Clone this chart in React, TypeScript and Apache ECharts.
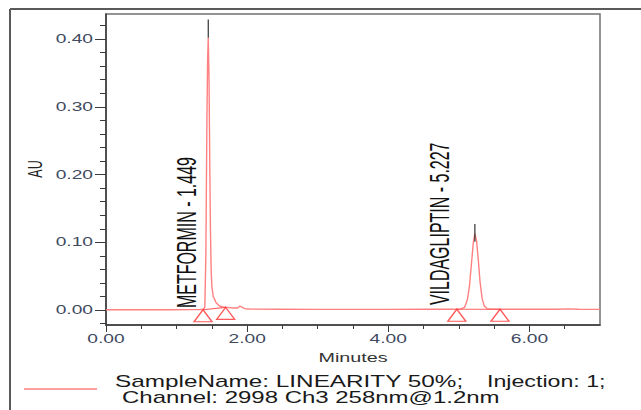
import React, { useEffect, useRef } from 'react';
import * as echarts from 'echarts';

// Chromatogram trace (minutes, AU)
const timeMin = [0, 0.3, 0.6, 0.9, 1.2, 1.33, 1.38, 1.40, 1.415, 1.43, 1.44, 1.449, 1.46, 1.47, 1.48, 1.49, 1.50, 1.52, 1.56, 1.61, 1.66, 1.72, 1.80, 1.86, 1.90, 1.93, 1.97, 2.05, 2.5, 3.0, 3.5, 4.0, 4.5, 4.9, 5.02, 5.08, 5.12, 5.15, 5.18, 5.205, 5.227, 5.25, 5.275, 5.30, 5.33, 5.36, 5.40, 5.46, 5.6, 6.0, 6.4, 6.55, 6.7, 7.0];
const auValues = [0.0005, 0.0006, 0.0005, 0.0006, 0.0007, 0.0008, 0.0012, 0.004, 0.08, 0.28, 0.37, 0.402, 0.34, 0.22, 0.12, 0.06, 0.035, 0.02, 0.011, 0.006, 0.0045, 0.004, 0.003, 0.003, 0.006, 0.004, 0.002, 0.0015, 0.0012, 0.001, 0.001, 0.001, 0.0012, 0.0012, 0.0015, 0.004, 0.015, 0.035, 0.07, 0.1, 0.113, 0.103, 0.075, 0.042, 0.017, 0.006, 0.0022, 0.0013, 0.0012, 0.0012, 0.0012, 0.0018, 0.0012, 0.001];

// Peaks
const peakNames = ['METFORMIN', 'VILDAGLIPTIN'];
const peakTimes = [1.449, 5.227];
const apexMarkTopAU = [0.429, 0.127];
const apexMarkBottomAU = [0.402, 0.101];
const baselineStartMin = [1.375, 4.971];
const baselineStartAU = [0.0005, 0.0012];
const baselineEndMin = [1.696, 5.583];
const baselineEndAU = [0.004, 0.0012];

// Axes
const X_MIN = 0;
const X_MAX = 7;
const Y_MIN = -0.022;
const Y_MAX = 0.437;
const xMajorTicks = [0, 2, 4, 6];
const xTickLabels = ['0.00', '2.00', '4.00', '6.00'];
const xMinorTicks = [0.5, 1, 1.5, 2.5, 3, 3.5, 4.5, 5, 5.5, 6.5];
const yMajorTicks = [0, 0.1, 0.2, 0.3, 0.4];
const yTickLabels = ['0.00', '0.10', '0.20', '0.30', '0.40'];
const yMinorTicks = [-0.02, 0.02, 0.04, 0.06, 0.08, 0.12, 0.14, 0.16, 0.18, 0.22, 0.24, 0.26, 0.28, 0.32, 0.34, 0.36, 0.38, 0.42];
const xAxisName = 'Minutes';
const yAxisName = 'AU';

// Legend
const legendText1 = 'SampleName: LINEARITY 50%;';
const legendText1b = 'Injection: 1;';
const legendText2 = 'Channel: 2998 Ch3 258nm@1.2nm';

const FONT = '"Liberation Sans", Arial, Helvetica, sans-serif';
const AXIS_COLOR = '#3a3a3a';
const TICK_TEXT = '#404a60';

function txt(x: number, y: number, s: string, o: any) {
  const align = o.align || 'left';
  const va = o.va || 'middle';
  return {
    type: 'text',
    x,
    y,
    scaleX: o.sx ?? 1,
    scaleY: o.sy ?? 1,
    rotation: o.rot ?? 0,
    silent: true,
    z: 100,
    style: {
      text: s,
      fontSize: o.size,
      fontFamily: FONT,
      fill: o.color,
      align,
      textAlign: align,
      verticalAlign: va,
      textVerticalAlign: va,
    },
  };
}

export default function App() {
  const ref = useRef<HTMLDivElement>(null);

  useEffect(() => {
    if (!ref.current) return;
    const chart = echarts.init(ref.current, null, { renderer: 'svg' });

    const axisLine = { show: true, onZero: false, lineStyle: { color: AXIS_COLOR, width: 1.5 } };
    const tickStyle = { color: AXIS_COLOR, width: 1 };

    const option: any = {
      animation: false,
      backgroundColor: '#ffffff',
      grid: {
        left: 106,
        right: 41,
        top: 14,
        bottom: 85,
        show: true,
        borderColor: '#707070',
        borderWidth: 1.5,
        backgroundColor: 'transparent',
      },
      xAxis: [
        {
          type: 'value', min: X_MIN, max: X_MAX, position: 'bottom',
          axisLine,
          axisTick: { show: true, customValues: xMajorTicks, length: 7, lineStyle: tickStyle },
          axisLabel: { show: false },
          splitLine: { show: false },
        },
        {
          type: 'value', min: X_MIN, max: X_MAX, position: 'bottom',
          axisLine: { show: false, onZero: false },
          axisTick: { show: true, customValues: xMinorTicks, length: 4, lineStyle: tickStyle },
          axisLabel: { show: false },
          splitLine: { show: false },
        },
      ],
      yAxis: [
        {
          type: 'value', min: Y_MIN, max: Y_MAX, position: 'left',
          axisLine,
          axisTick: { show: true, customValues: yMajorTicks, length: 11, lineStyle: tickStyle },
          axisLabel: { show: false },
          splitLine: { show: false },
        },
        {
          type: 'value', min: Y_MIN, max: Y_MAX, position: 'left',
          axisLine: { show: false, onZero: false },
          axisTick: { show: true, customValues: yMinorTicks, length: 6, lineStyle: tickStyle },
          axisLabel: { show: false },
          splitLine: { show: false },
        },
      ],
      series: [
        {
          type: 'line',
          name: 'trace',
          data: timeMin.map((t, i) => [t, auValues[i]]),
          symbol: 'none',
          showSymbol: false,
          lineStyle: { color: '#ff8080', width: 1.4 },
          z: 3,
          silent: true,
        },
        ...peakNames.map((_, i) => ({
          type: 'line',
          data: [
            [baselineStartMin[i], baselineStartAU[i]],
            [baselineEndMin[i], baselineEndAU[i]],
          ],
          symbol: 'none',
          lineStyle: { color: '#ff6060', width: 1.1 },
          z: 4,
          silent: true,
        })),
        {
          type: 'scatter',
          data: [
            ...baselineStartMin.map((t, i) => [t, baselineStartAU[i]]),
            ...baselineEndMin.map((t, i) => [t, baselineEndAU[i]]),
          ],
          symbol: 'triangle',
          symbolSize: [18, 12],
          symbolOffset: [0, 6],
          itemStyle: { color: 'rgba(255,255,255,0)', borderColor: '#ff3030', borderWidth: 1.3 },
          z: 5,
          silent: true,
        },
        ...peakNames.map((_, i) => ({
          type: 'line',
          data: [
            [peakTimes[i], apexMarkBottomAU[i]],
            [peakTimes[i], apexMarkTopAU[i]],
          ],
          symbol: 'none',
          lineStyle: { color: '#333333', width: 1.2 },
          z: 6,
          silent: true,
        })),
      ],
    };

    chart.setOption(option);

    const toPx = (x: number, y: number) =>
      chart.convertToPixel({ xAxisIndex: 0, yAxisIndex: 0 }, [x, y]) as number[];
    const [xLeft, yBottom] = toPx(X_MIN, Y_MIN);
    const [xRight] = toPx(X_MAX, Y_MIN);
    const [, yZero] = toPx(X_MIN, 0);

    const SX = 1.6;
    const g: any[] = [];

    yMajorTicks.forEach((v, i) => {
      const [, py] = toPx(X_MIN, v);
      g.push(txt(xLeft - 13, py, yTickLabels[i], { size: 12, sx: SX, align: 'right', color: TICK_TEXT }));
    });
    xMajorTicks.forEach((v, i) => {
      const [pxx] = toPx(v, Y_MIN);
      g.push(txt(pxx, yBottom + 14, xTickLabels[i], { size: 12, sx: SX, align: 'center', color: TICK_TEXT }));
    });
    g.push(txt((xLeft + xRight) / 2, yBottom + 33, xAxisName, { size: 12.5, sx: 1.58, align: 'center', color: '#333333' }));
    g.push(txt(35, 169, yAxisName, { size: 12.5, sy: 1.6, rot: Math.PI / 2, align: 'center', color: '#222222' }));

    const labelOffsets = [-21.5, -35];
    const labelLift = [2, 5];
    peakNames.forEach((n, i) => {
      const [pxx] = toPx(peakTimes[i], 0);
      g.push(
        txt(pxx + labelOffsets[i], yZero - labelLift[i], `${n} - ${peakTimes[i].toFixed(3)}`, {
          size: 16, sy: 1.7, rot: Math.PI / 2, align: 'left', color: '#111111',
        })
      );
    });

    // outer frame
    g.push({ type: 'line', silent: true, shape: { x1: 10, y1: 9, x2: 641, y2: 9 }, style: { stroke: '#5a5a5a', lineWidth: 2 } });
    g.push({ type: 'line', silent: true, shape: { x1: 10, y1: 9, x2: 10, y2: 410 }, style: { stroke: '#5a5a5a', lineWidth: 2 } });

    // legend
    g.push({ type: 'line', silent: true, shape: { x1: 24, y1: 389, x2: 97, y2: 389 }, style: { stroke: '#ff8080', lineWidth: 1.5 } });
    g.push(txt(115, 381, legendText1, { size: 16, sx: 1.52, color: '#1a1a1a' }));
    g.push(txt(487, 381, legendText1b, { size: 16, sx: 1.45, color: '#1a1a1a' }));
    g.push(txt(122, 397.5, legendText2, { size: 16, sx: 1.5, color: '#1a1a1a' }));

    chart.setOption({ graphic: { elements: g } });

    return () => chart.dispose();
  }, []);

  return (
    <div
      ref={ref}
      style={{ position: 'fixed', left: 0, top: 0, width: 641, height: 410, background: '#ffffff' }}
    />
  );
}
